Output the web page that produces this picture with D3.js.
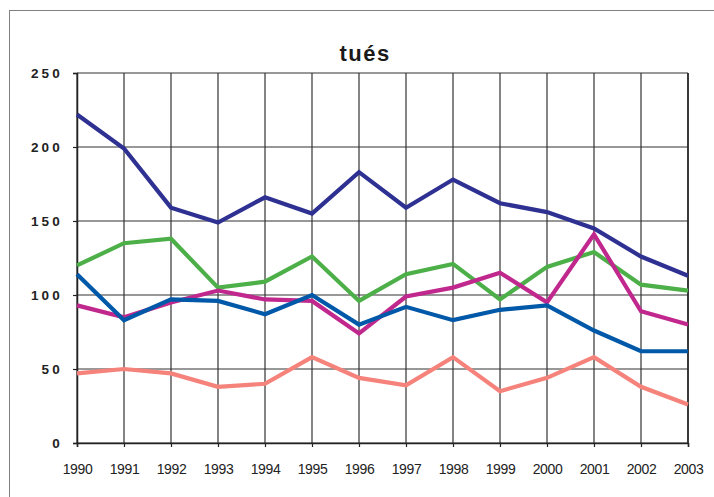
<!DOCTYPE html>
<html>
<head>
<meta charset="utf-8">
<script src="https://cdn.jsdelivr.net/npm/d3@7"></script>
<style>
  body { margin: 0; background: #fff; }
  svg { display: block; font-family: Arial, "Liberation Sans", sans-serif; }
</style>
</head>
<body>
<div id="chart"></div>
<script>
var years = ["1990","1991","1992","1993","1994","1995","1996","1997","1998","1999","2000","2001","2002","2003"];
var yTicks = [0, 50, 100, 150, 200, 250];

var navy    = [222, 199, 159, 149, 166, 155, 183, 159, 178, 162, 156, 145, 126, 113];
var green   = [120, 135, 138, 105, 109, 126, 96, 114, 121, 97, 119, 129, 107, 103];
var magenta = [93, 85, 95, 103, 97, 96, 74, 99, 105, 115, 95, 141, 89, 80];
var blue    = [114, 83, 97, 96, 87, 100, 80, 92, 83, 90, 93, 76, 62, 62];
var salmon  = [47, 50, 47, 38, 40, 58, 44, 39, 58, 35, 44, 58, 38, 26];

var series = [
  {values: navy, color: "#2e3192"},
  {values: green, color: "#4caf48"},
  {values: magenta, color: "#c0288e"},
  {values: blue, color: "#0058a8"},
  {values: salmon, color: "#f5837b"}
];

var w = 714, h = 497;
var plotLeft = 77, plotRight = 688, plotTop = 73, plotBottom = 443;

var svg = d3.select("#chart").append("svg")
  .attr("width", w)
  .attr("height", h);

// outer frame (cut off at right and bottom like the picture)
svg.append("rect")
  .attr("x", 9.5).attr("y", 10.5)
  .attr("width", 720).attr("height", 500)
  .attr("fill", "none")
  .attr("stroke", "#808080")
  .attr("stroke-width", 1);

var x = d3.scalePoint().domain(years).range([plotLeft, plotRight]);
var y = d3.scaleLinear().domain([0, 250]).range([plotBottom, plotTop]);

// title
svg.append("text")
  .attr("x", 365).attr("y", 61)
  .attr("text-anchor", "middle")
  .attr("font-size", 22)
  .attr("font-weight", "bold")
  .attr("letter-spacing", "1.5px")
  .attr("fill", "#1a1a1a")
  .text("tués");

// grid
svg.append("g")
  .selectAll("line")
  .data(yTicks)
  .join("line")
  .attr("x1", plotLeft).attr("x2", plotRight)
  .attr("y1", function(d) { return y(d); })
  .attr("y2", function(d) { return y(d); })
  .attr("stroke", "#333")
  .attr("stroke-width", 1.2);

svg.append("g")
  .selectAll("line")
  .data(years)
  .join("line")
  .attr("x1", function(d) { return x(d); })
  .attr("x2", function(d) { return x(d); })
  .attr("y1", plotTop).attr("y2", plotBottom)
  .attr("stroke", "#333")
  .attr("stroke-width", 1.2);

// axes
var yAxis = d3.axisLeft(y).tickValues(yTicks).tickSize(4).tickPadding(10);
var gy = svg.append("g").attr("transform", "translate(" + plotLeft + ",0)").call(yAxis);
gy.select(".domain").attr("stroke", "#222").attr("stroke-width", 1.5);
gy.selectAll(".tick line").attr("stroke", "#222").attr("stroke-width", 1.2);
gy.selectAll("text")
  .attr("font-size", 13.5)
  .attr("font-weight", "bold")
  .attr("letter-spacing", "3.2px")
  .attr("fill", "#222")
  .attr("font-family", "Arial, 'Liberation Sans', sans-serif")
  .attr("dy", "0.36em");

var xAxis = d3.axisBottom(x).tickSize(4).tickPadding(17);
var gx = svg.append("g").attr("transform", "translate(0," + plotBottom + ")").call(xAxis);
gx.select(".domain").attr("stroke", "#222").attr("stroke-width", 1.5);
gx.selectAll(".tick line").attr("stroke", "#222").attr("stroke-width", 1.2);
gx.selectAll("text")
  .attr("font-size", 14)
  .attr("letter-spacing", "-0.4px")
  .attr("fill", "#222")
  .attr("font-family", "Arial, 'Liberation Sans', sans-serif");

// right border of plot
svg.append("line")
  .attr("x1", plotRight).attr("x2", plotRight)
  .attr("y1", plotTop).attr("y2", plotBottom)
  .attr("stroke", "#222").attr("stroke-width", 1.5);

var line = d3.line()
  .x(function(d, i) { return x(years[i]); })
  .y(function(d) { return y(d); });

svg.append("g")
  .selectAll("path")
  .data(series)
  .join("path")
  .attr("d", function(d) { return line(d.values); })
  .attr("fill", "none")
  .attr("stroke", function(d) { return d.color; })
  .attr("stroke-width", 4.2)
  .attr("stroke-linejoin", "miter");
</script>
</body>
</html>
